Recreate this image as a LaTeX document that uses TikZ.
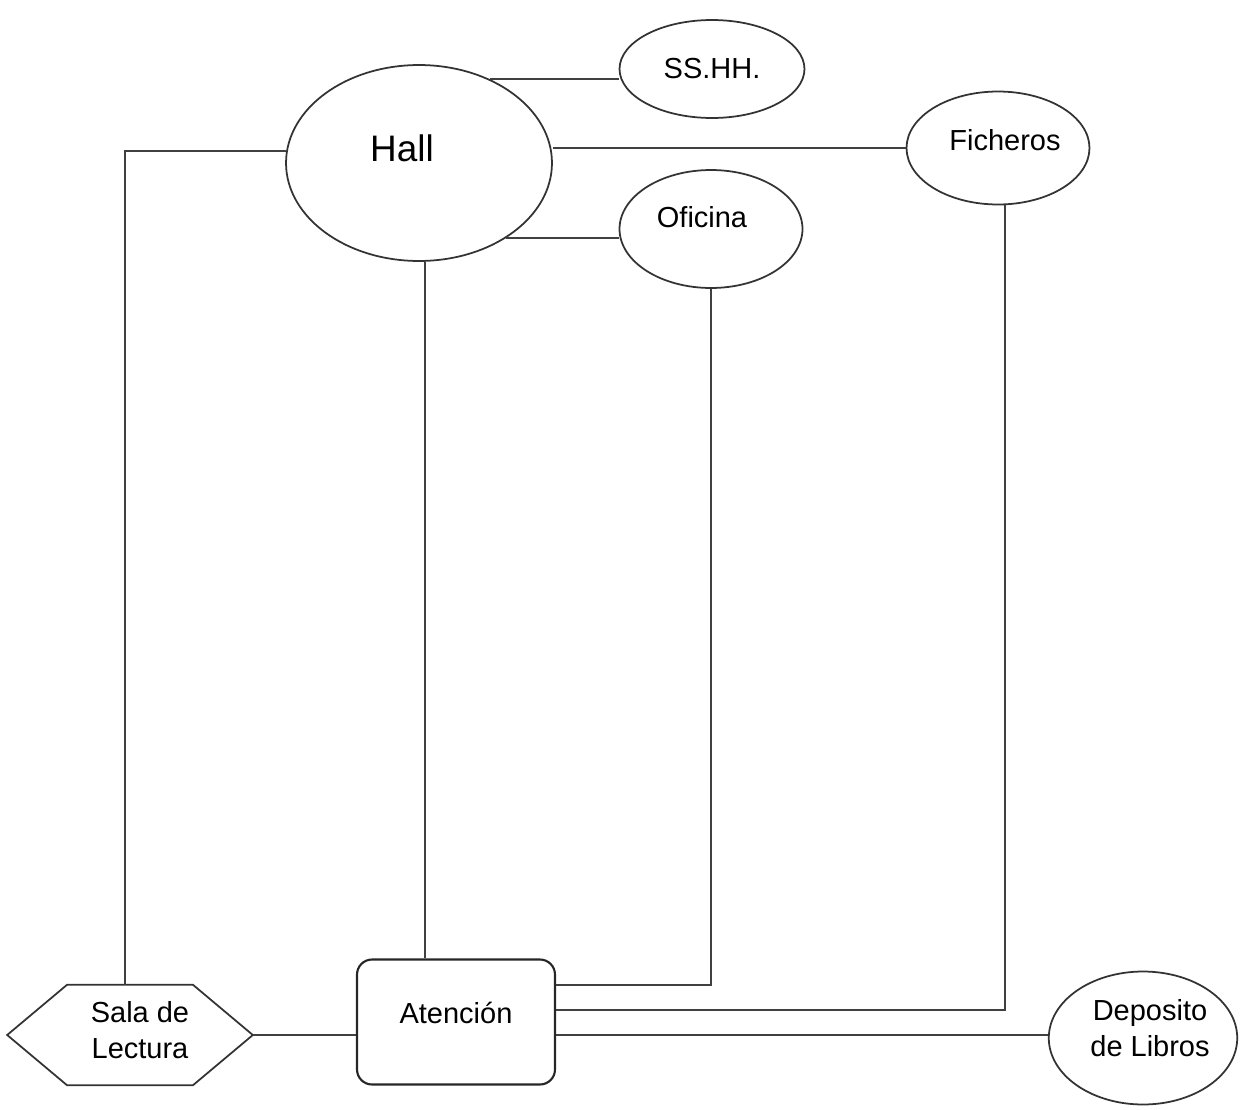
\documentclass[tikz,border=0pt]{standalone}
\usepackage{fontspec}
\setmainfont{Liberation Sans}
\usetikzlibrary{shapes,calc,positioning}

\begin{document}
\begin{tikzpicture}[x=0.02cm,y=-0.02cm,
		room/.style={ellipse,draw=black!80,line width=1pt,inner sep=0pt,align=center,font=\fontsize{16.5}{20}\selectfont},
		link/.style={draw=black!75,line width=1pt}]
		\useasboundingbox (0,0) rectangle (1251,1109);
		\node [room,minimum width=5.32cm,minimum height=3.92cm,text depth=0.6cm,font=\fontsize{21}{24}\selectfont] (hall) at (419,163) {Hall\hspace{0.68cm}};
		\node [room,minimum width=3.7cm,minimum height=1.96cm] (ss) at (712,69) {SS.HH.};
		\node [room,minimum width=3.66cm,minimum height=2.26cm,text depth=0.32cm] (fich) at (998,148) {\hspace{0.28cm}Ficheros};
		\node [room,minimum width=3.66cm,minimum height=2.36cm,text depth=0.48cm] (ofi) at (711,229) {Oficina\hspace{0.36cm}};
		\node [room,minimum width=3.74cm,minimum height=2.66cm,text depth=0.4cm] (dep) at (1143,1038) {\hspace{0.28cm}Deposito\\\hspace{0.28cm}de Libros};
		\node [draw=black!85,line width=1.2pt,rounded corners=0.3cm,minimum width=3.96cm,minimum height=2.5cm,inner sep=0pt,text depth=0.36cm,font=\fontsize{16.5}{20}\selectfont,align=center] (aten) at (456,1022) {Atención};
		\node [minimum width=4.9cm,minimum height=2cm,inner sep=0pt,text depth=0.2cm,align=center,font=\fontsize{16.5}{20}\selectfont] (sala) at (130,1035) {\hspace{0.4cm}Sala de\\\hspace{0.4cm}Lectura};
		\draw [draw=black!80,line width=1pt] (sala.west) -- ($(sala.north west)+(60,0)$) -- ($(sala.north east)+(-60,0)$) -- (sala.east)
			-- ($(sala.south east)+(-60,0)$) -- ($(sala.south west)+(60,0)$) -- cycle;
		\coordinate (a1) at ([yshift=0.74cm]aten.east);
		\coordinate (a2) at ([yshift=0.24cm]aten.east);
		\coordinate (a3) at ([yshift=-0.26cm]aten.east);
		\draw [link] (hall.50) -- (hall.50 -| ss.west);
		\draw [link] (fich.west -| hall.east) -- (fich.west);
		\draw [link] (hall.-41) -- (hall.-41 -| ofi.west);
		\draw [link] (hall.175) -| ([xshift=-0.1cm]sala.north);
		\draw [link] ([xshift=0.12cm]hall.south) -- ([xshift=0.12cm]hall.south |- aten.north);
		\draw [link] (ofi.south) |- (a1);
		\draw [link] ([xshift=0.14cm]fich.south) |- (a2);
		\draw [link] (a3) -- (a3 -| dep.west);
		\draw [link] (sala.east) -- (sala.east -| aten.west);
\end{tikzpicture}
\end{document}
